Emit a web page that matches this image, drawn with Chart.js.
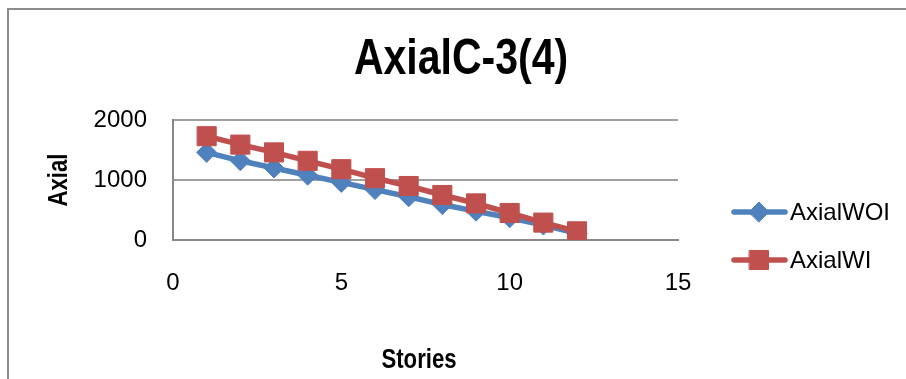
<!DOCTYPE html>
<html>
<head>
<meta charset="utf-8">
<script src="https://cdn.jsdelivr.net/npm/chart.js@4/dist/chart.umd.min.js"></script>
<style>
  html, body { margin: 0; padding: 0; background: #ffffff; overflow: hidden; }
  #frame { position: absolute; left: 7px; top: 8px; width: 1200px; height: 800px;
           border-left: 2px solid #8c8c8c; border-top: 2px solid #8c8c8c; }
  #wrap { position: absolute; left: 0; top: 0; width: 906px; height: 379px; }
</style>
</head>
<body>
<div id="frame"></div>
<div id="wrap"><canvas id="c" width="906" height="379"></canvas></div>
<script>
// Axial force per story, column C-3(4)
const chartTitle = 'AxialC-3(4)';
const xTitle = 'Stories';
const yTitle = 'Axial';
const stories = [1, 2, 3, 4, 5, 6, 7, 8, 9, 10, 11, 12];
const axialWOI = [1460, 1320, 1200, 1080, 960, 840, 720, 590, 480, 370, 250, 110];
const axialWI  = [1730, 1590, 1460, 1320, 1180, 1030, 900, 750, 610, 450, 290, 145];
const seriesNames = ['AxialWOI', 'AxialWI'];
const xTicks = [0, 5, 10, 15];
const yTicks = [0, 1000, 2000];

const BLUE = '#4F81BD';
const RED = '#C0504D';
const SANS = '"Liberation Sans", Arial, sans-serif';
const NARROW_RATIO = 0.82; // condensed bold headings

const toPoints = (xs, ys) => xs.map((x, i) => ({ x: x, y: ys[i] }));

// Draw condensed bold text by squeezing Liberation Sans Bold horizontally
function narrowText(ctx, text, x, y, size, angle) {
  ctx.save();
  ctx.translate(x, y);
  ctx.rotate(angle || 0);
  ctx.scale(NARROW_RATIO, 1);
  ctx.font = 'bold ' + size + 'px ' + SANS;
  ctx.fillStyle = '#000';
  ctx.textAlign = 'center';
  ctx.textBaseline = 'middle';
  ctx.fillText(text, 0, 0);
  ctx.restore();
}

// Title, axis titles and legend drawn on the canvas
const decorations = {
  id: 'decorations',
  afterDraw(chart) {
    const ctx = chart.ctx;
    const area = chart.chartArea;
    narrowText(ctx, chartTitle, 461, 60, 50, 0);
    narrowText(ctx, xTitle, 419, 361, 27, 0);
    narrowText(ctx, yTitle, 60, (area.top + area.bottom) / 2, 27, -Math.PI / 2);

    ctx.save();
    const rows = [
      { name: seriesNames[0], color: BLUE, style: 'rectRot', r: 10, y: 212 },
      { name: seriesNames[1], color: RED, style: 'rect', r: 13.5, y: 260 }
    ];
    rows.forEach(row => {
      ctx.strokeStyle = row.color;
      ctx.lineWidth = 5.5;
      ctx.lineCap = 'round';
      ctx.beginPath();
      ctx.moveTo(734, row.y);
      ctx.lineTo(785, row.y);
      ctx.stroke();
      ctx.fillStyle = row.color;
      ctx.lineWidth = 1;
      Chart.helpers.drawPoint(ctx, { pointStyle: row.style, radius: row.r, borderWidth: 1, rotation: 0 }, 759, row.y);
      ctx.fillStyle = '#000';
      ctx.font = '24px ' + SANS;
      ctx.textAlign = 'left';
      ctx.textBaseline = 'middle';
      ctx.fillText(row.name, 790, row.y + 1);
    });
    ctx.restore();
  }
};

new Chart(document.getElementById('c'), {
  type: 'line',
  data: {
    datasets: [
      {
        label: seriesNames[0],
        data: toPoints(stories, axialWOI),
        borderColor: BLUE,
        backgroundColor: BLUE,
        borderWidth: 5.5,
        pointStyle: 'rectRot',
        pointRadius: 10,
        pointBorderWidth: 1,
        pointBorderColor: BLUE,
        pointBackgroundColor: BLUE,
        order: 1
      },
      {
        label: seriesNames[1],
        data: toPoints(stories, axialWI),
        borderColor: RED,
        backgroundColor: RED,
        borderWidth: 5.5,
        pointStyle: 'rect',
        pointRadius: 13.5,
        pointBorderWidth: 1,
        pointBorderColor: RED,
        pointBackgroundColor: RED,
        order: 0
      }
    ]
  },
  options: {
    responsive: false,
    animation: false,
    events: [],
    layout: { padding: { left: 0, top: 120, right: 228, bottom: 0 } },
    plugins: {
      legend: { display: false },
      title: { display: false },
      tooltip: { enabled: false }
    },
    scales: {
      x: {
        type: 'linear',
        min: 0,
        max: 15,
        afterFit(scale) { scale.height = 139; },
        afterBuildTicks(scale) { scale.ticks = xTicks.map(v => ({ value: v })); },
        grid: { display: false, drawTicks: false },
        border: { display: true, color: '#888888', width: 2 },
        ticks: { color: '#000', font: { family: SANS, size: 24 }, padding: 29, callback: v => String(v) }
      },
      y: {
        min: 0,
        max: 2000,
        afterFit(scale) { scale.width = 173; },
        afterBuildTicks(scale) { scale.ticks = yTicks.map(v => ({ value: v })); },
        grid: { color: '#a0a0a0', lineWidth: 2, drawTicks: false },
        border: { display: true, color: '#888888', width: 2 },
        ticks: { color: '#000', font: { family: SANS, size: 24 }, padding: 26, callback: v => String(v) }
      }
    }
  },
  plugins: [decorations]
});
</script>
</body>
</html>
